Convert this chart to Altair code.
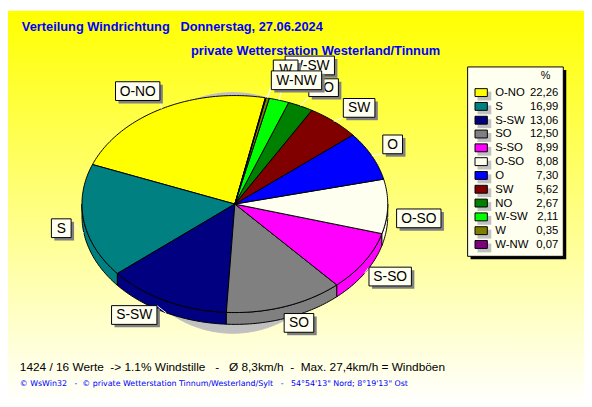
import math
import altair as alt
import pandas as pd

names = ["O-NO", "S", "S-SW", "SO", "S-SO", "O-SO", "O", "SW", "NO", "W-SW", "W", "W-NW"]
percent = [22.26, 16.99, 13.06, 12.50, 8.99, 8.08, 7.30, 5.62, 2.67, 2.11, 0.35, 0.07]
percent_text = ["22,26", "16,99", "13,06", "12,50", "8,99", "8,08", "7,30", "5,62", "2,67", "2,11", "0,35", "0,07"]
colors = ["#FFFF00", "#008080", "#000080", "#808080", "#FF00FF", "#FFFFF0",
          "#0000FF", "#800000", "#008000", "#00FF00", "#808000", "#800080"]

# label boxes: left, top, right, bottom in picture pixels
label_boxes = {
    "O-NO": (117, 80, 162, 99), "S": (52, 219, 72, 238), "S-SW": (113, 307, 159, 326),
    "SO": (288, 315, 318, 334), "S-SO": (374, 268, 417, 287), "O-SO": (402, 209, 447, 228),
    "O": (388, 134, 408, 153), "SW": (348, 97, 380, 116), "NO": (313, 77, 343, 95),
    "W-SW": (289, 54, 339, 73), "W": (277, 58, 302, 77), "W-NW": (275, 69, 326, 88),
}
draw_order = ["O-NO", "S", "S-SW", "SO", "S-SO", "O-SO", "O", "SW", "NO", "W-SW", "W", "W-NW"]
draw_order = ["O-NO", "O", "SW", "O-SO", "S-SO", "SO", "S-SW", "S", "NO", "W-SW", "W", "W-NW"]

W, H = 584, 399
OFF = 8
CX, CY, RX, RY, DEPTH = 238, 204, 155, 110, 12
START = 78.5


def ux(px):
    return (px - CX) / RX


def uy(py):
    return (CY - py) / RY


X = alt.X("x:Q", axis=None, scale=alt.Scale(domain=[ux(OFF), ux(OFF + W)], range=[0, W], nice=False, zero=False))
Y = alt.Y("y:Q", axis=None, scale=alt.Scale(domain=[uy(OFF + H), uy(OFF)], range=[H, 0], nice=False, zero=False))
X2 = alt.X2("x2:Q")
Y2 = alt.Y2("y2:Q")


def polygon(points, fill, stroke=None):
    df = pd.DataFrame({"x": [p[0] for p in points], "y": [p[1] for p in points], "i": range(len(points))})
    kw = {"fill": fill, "strokeWidth": 1, "stroke": stroke or fill, "interpolate": "linear"}
    return alt.Chart(df).mark_line(**kw).encode(x=X, y=Y, order="i:Q")


def rect(x0, y0, x1, y1, fill, stroke=None):
    df = pd.DataFrame([{"x": ux(x0), "x2": ux(x1), "y": uy(y0), "y2": uy(y1)}])
    kw = {"fill": fill}
    if stroke:
        kw.update(stroke=stroke, strokeWidth=1)
    return alt.Chart(df).mark_rect(**kw).encode(x=X, x2=X2, y=Y, y2=Y2)


def text(s, px, py, size=12, color="black", align="left", weight="normal", font="Liberation Sans"):
    df = pd.DataFrame([{"x": ux(px), "y": uy(py), "t": s}])
    return alt.Chart(df).mark_text(align=align, baseline="middle", fontSize=size, color=color,
                                   fontWeight=weight, font=font).encode(x=X, y=Y, text="t:N")


layers = []
gradient = alt.LinearGradient(gradient="linear", x1=0, y1=0, x2=0, y2=1,
                              stops=[alt.GradientStop(color="#FFFF00", offset=0),
                                     alt.GradientStop(color="#FFFFFF", offset=1)])
layers.append(alt.Chart(pd.DataFrame({"a": [0]})).mark_rect(fill=gradient).encode(
    x=alt.value(0), x2=alt.value(W), y=alt.value(0), y2=alt.value(H)))

# pie shadow
shadow_pts = []
for d in range(0, 361, 2):
    shadow_pts.append((ux(236 + 116 * math.cos(math.radians(d))), uy(213 - 122 * math.sin(math.radians(d)))))
layers.append(polygon(shadow_pts, "#C0C0C0"))

# slices
ranges = {}
a = START
for n, p in zip(names, percent):
    ranges[n] = (a, a + p * 3.6)
    a += p * 3.6


def rim(t):
    return math.cos(math.radians(t)), math.sin(math.radians(t))


dz = DEPTH / RY
for n, c in zip(names, colors):
    a0, a1 = ranges[n]
    lo, hi = max(a0, 180), min(a1, 360)
    if hi > lo:
        steps = max(2, int(hi - lo) + 1)
        top = [rim(lo + (hi - lo) * i / steps) for i in range(steps + 1)]
        pts = [(x, y - dz) for x, y in top] + [(x, y) for x, y in reversed(top)]
        pts.append(pts[0])
        layers.append(polygon(pts, c, "black"))
    lo, hi = max(a0 + 360 if a1 > 360 else a0, 0), a1
for n, c in zip(names, colors):
    a0, a1 = ranges[n]
    steps = max(2, int(a1 - a0) + 1)
    pts = [(0, 0)] + [rim(a0 + (a1 - a0) * i / steps) for i in range(steps + 1)] + [(0, 0)]
    layers.append(polygon(pts, c, "black"))

# leader lines
rows = []
for n in names:
    a0, a1 = ranges[n]
    mx, my = rim((a0 + a1) / 2)
    l, t, r, b = label_boxes[n]
    bx = min(max((CX + mx * RX), l), r)
    by = min(max((CY - my * RY), t), b)
    rows.append({"x": mx, "y": my - (dz if my < 0 else 0), "x2": ux(bx), "y2": uy(by)})
layers.append(alt.Chart(pd.DataFrame(rows)).mark_rule(color="white", strokeWidth=1).encode(x=X, y=Y, x2=X2, y2=Y2))

# label boxes
for n in ["O-NO", "S", "S-SW", "SO", "S-SO", "O-SO", "O", "SW", "NO", "W-SW", "W", "W-NW"]:
    l, t, r, b = label_boxes[n]
    layers.append(rect(l + 3, t + 3, r + 3, b + 3, "#808080"))
    layers.append(rect(l, t, r, b, "#FFFFF0", "black"))
    layers.append(text(n, (l + r) / 2, (t + b) / 2 + 0.5, size=14, align="center"))

# legend
layers.append(rect(477, 68, 574, 260, "black"))
layers.append(rect(474, 65, 571, 257, "#FFFFF0", "black"))
layers.append(text("%", 553, 74.5, size=11, align="center"))
for i, (n, v, c) in enumerate(zip(names, percent_text, colors)):
    yy = 91 + i * 14
    layers.append(rect(484, yy - 1, 498, yy + 8, "#C0C0C0"))
    layers.append(rect(481.5, yy - 4, 494, yy + 4, c, "black"))
    layers.append(text(n, 502, yy + 0.5, size=11.5))
    layers.append(text(v, 566, yy + 0.5, size=11.5, align="right"))

# titles and footers
layers.append(text("Verteilung Windrichtung\u00a0\u00a0\u00a0Donnerstag, 27.06.2024", 22, 25, size=13, color="#0000FF", weight="bold"))
layers.append(text("private Wetterstation Westerland/Tinnum", 193.5, 49, size=13, color="#0000FF", weight="bold"))
layers.append(text("1424 / 16 Werte\u00a0\u00a0-> 1.1% Windstille\u00a0\u00a0\u00a0-\u00a0\u00a0\u00a0\u00d8 8,3km/h\u00a0\u00a0-\u00a0\u00a0Max. 27,4km/h = Windb\u00f6en", 20, 369, size=12))
layers.append(text("\u00a9 WsWin32\u00a0\u00a0\u00a0-\u00a0\u00a0\u00a9 private Wetterstation Tinnum/Westerland/Sylt\u00a0\u00a0\u00a0-\u00a0\u00a0\u00a054\u00b054'13\" Nord; 8\u00b019'13\" Ost", 20, 386, size=8, color="#0000FF", font="DejaVu Sans"))

chart = alt.layer(*layers).properties(width=W, height=H, padding=0, autosize=alt.AutoSizeParams(type="none"),
                                      background="#FFFFFF").configure_view(stroke=None)
chart.save("out.html", embed_options={"renderer": "svg", "actions": False})
